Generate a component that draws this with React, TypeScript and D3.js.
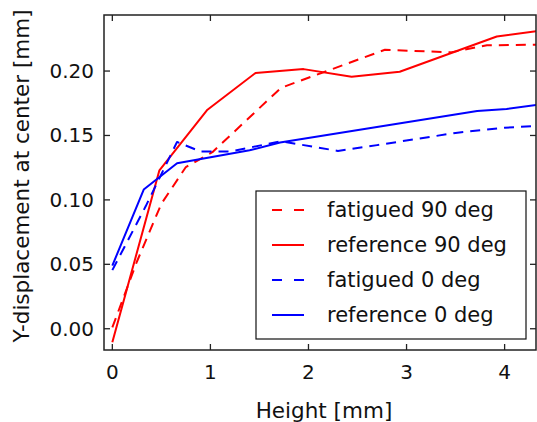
import React from "react";
import * as d3 from "d3";

const xTicks = [0, 1, 2, 3, 4];
const yTicks = [0.0, 0.05, 0.1, 0.15, 0.2];

const fat90X = [0, 0.25, 0.5, 0.75, 1.02, 1.72, 2.78, 3.45, 3.82, 4.33];
const fat90Y = [0.001, 0.052, 0.097, 0.1255, 0.137, 0.187, 0.2165, 0.2145, 0.22, 0.2205];

const ref90X = [0, 0.48, 0.97, 1.46, 1.95, 2.44, 2.93, 3.92, 4.33];
const ref90Y = [-0.0105, 0.123, 0.17, 0.1985, 0.2015, 0.1955, 0.1995, 0.2268, 0.231];

const fat0X = [0, 0.34, 0.66, 0.9, 1.2, 1.72, 2.3, 2.7, 3.5, 4.0, 4.33];
const fat0Y = [0.0455, 0.095, 0.145, 0.1375, 0.1375, 0.1455, 0.138, 0.1425, 0.152, 0.156, 0.1575];

const ref0X = [0, 0.32, 0.66, 1.4, 1.71, 2.73, 3.72, 4.02, 4.33];
const ref0Y = [0.049, 0.108, 0.1285, 0.1385, 0.1445, 0.157, 0.169, 0.1705, 0.1737];

const seriesNames = ["fatigued 90 deg", "reference 90 deg", "fatigued 0 deg", "reference 0 deg"];
const seriesColors = ["#ff0000", "#ff0000", "#0000ff", "#0000ff"];
const seriesDashed = [true, false, true, false];

const W = 537;
const H = 422;
const L = 104, R = 536, T = 15, B = 350;

export default function App() {
  const x = d3.scaleLinear().domain([-0.085, 4.32]).range([L, R]);
  const y = d3.scaleLinear().domain([-0.0165, 0.2435]).range([B, T]);
  const line = d3
    .line<[number, number]>()
    .x((d) => x(d[0]))
    .y((d) => y(d[1]));

  const series = [
    d3.zip(fat90X, fat90Y) as [number, number][],
    d3.zip(ref90X, ref90Y) as [number, number][],
    d3.zip(fat0X, fat0Y) as [number, number][],
    d3.zip(ref0X, ref0Y) as [number, number][],
  ];

  const font = "'DejaVu Sans', sans-serif";
  const fs = 20;
  const fsLeg = 21;
  const fsLab = 21.5;
  const tickLen = 6;

  const legL = 256, legT = 191, legR = 526, legB = 339;
  const rowY = [210, 245, 280, 315];

  return (
    <div style={{ position: "fixed", left: 0, top: 0, width: W, height: H, overflow: "hidden" }}>
      <svg width={W} height={H} style={{ display: "block", background: "#fff" }}>
        <defs>
          <clipPath id="plotclip">
            <rect x={L} y={T} width={R - L} height={B - T} />
          </clipPath>
        </defs>
        <g clipPath="url(#plotclip)">
          {series.map((s, i) => (
            <path
              key={i}
              d={line(s) || ""}
              fill="none"
              stroke={seriesColors[i]}
              strokeWidth={2}
              strokeDasharray={seriesDashed[i] ? "10,7" : undefined}
              strokeLinejoin="round"
            />
          ))}
        </g>
        {xTicks.map((t) => (
          <g key={"x" + t}>
            <line x1={x(t)} x2={x(t)} y1={B} y2={B - tickLen} stroke="#222" strokeWidth={1.3} />
            <line x1={x(t)} x2={x(t)} y1={T} y2={T + tickLen} stroke="#222" strokeWidth={1.3} />
            <text x={x(t)} y={379} textAnchor="middle" fontFamily={font} fontSize={fs} fill="#111">
              {t}
            </text>
          </g>
        ))}
        {yTicks.map((t) => (
          <g key={"y" + t}>
            <line x1={L} x2={L + tickLen} y1={y(t)} y2={y(t)} stroke="#222" strokeWidth={1.3} />
            <line x1={R} x2={R - tickLen} y1={y(t)} y2={y(t)} stroke="#222" strokeWidth={1.3} />
            <text
              x={94}
              y={y(t)}
              dy="0.35em"
              textAnchor="end"
              fontFamily={font}
              fontSize={fs}
              fill="#111"
            >
              {d3.format(".2f")(t)}
            </text>
          </g>
        ))}
        <rect x={L} y={T} width={R - L} height={B - T} fill="none" stroke="#222" strokeWidth={1.5} />
        <rect x={legL} y={legT} width={legR - legL} height={legB - legT} fill="#fff" stroke="#111" strokeWidth={1.2} />
        {seriesNames.map((n, i) => (
          <g key={n}>
            <line
              x1={272}
              x2={304}
              y1={rowY[i]}
              y2={rowY[i]}
              stroke={seriesColors[i]}
              strokeWidth={2}
              strokeDasharray={seriesDashed[i] ? "10,12" : undefined}
            />
            <text x={327} y={rowY[i]} dy="0.35em" fontFamily={font} fontSize={fsLeg} fill="#111">
              {n}
            </text>
          </g>
        ))}
        <text x={324} y={418} textAnchor="middle" fontFamily={font} fontSize={fsLab} fill="#111">
          Height [mm]
        </text>
        <text
          transform={`translate(29, 176) rotate(-90)`}
          textAnchor="middle"
          fontFamily={font}
          fontSize={fsLab}
          fill="#111"
        >
          Y-displacement at center [mm]
        </text>
      </svg>
    </div>
  );
}
